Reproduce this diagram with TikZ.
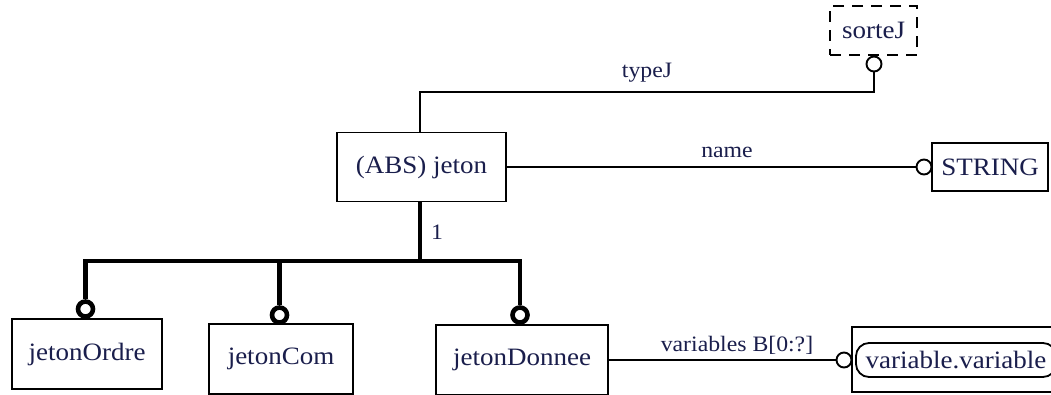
\documentclass[tikz,border=0pt]{standalone}
\usepackage{fontspec}
\setmainfont{Liberation Serif}[FakeStretch=1.08]
\usepackage{xcolor}
\definecolor{inkblue}{HTML}{1A1E4C}
\usepackage{tikz}
\usetikzlibrary{calc}
\tikzset{
    ent_box/.style={draw=black, line width=1.8pt, fill=white, text=inkblue, font=\fontsize{25}{28}\selectfont, inner sep=0pt},
    ent_dash/.style={ent_box, dash pattern=on 11pt off 8pt},
    ent_pill/.style={ent_box, rounded corners=13pt},
    ent_ring/.style={circle, draw=black, fill=white, line width=1.9pt, inner sep=0pt, minimum size=15pt},
    ent_ring_thick/.style={ent_ring, line width=4.6pt, minimum size=15pt},
    ent_edge/.style={draw=black, line width=1.9pt},
    ent_edge_thick/.style={draw=black, line width=4.2pt, line join=miter},
    ent_label/.style={text=inkblue, font=\fontsize{22}{24}\selectfont, inner sep=0pt}
}

\begin{document}
\begin{tikzpicture}[x=1pt, y=-1pt]
\clip (0,0) rectangle (1051,394);
\fill[white] (0,0) rectangle (1051,394);

% entities
\node[ent_dash, minimum width=87pt, minimum height=49pt] (sorte) at (873.5,30.5) {sorteJ};
\node[ent_box, minimum width=169pt, minimum height=69pt] (jeton) at (421.5,167) {(ABS) jeton};
\node[ent_box, minimum width=116pt, minimum height=48pt] (string) at (990,167) {STRING};
\node[ent_box, minimum width=150pt, minimum height=70pt] (ordre) at (87,354) {jetonOrdre};
\node[ent_box, minimum width=144pt, minimum height=70pt] (com) at (281,359) {jetonCom};
\node[ent_box, minimum width=172pt, minimum height=70pt] (donnee) at (522,360) {jetonDonnee};
\node[ent_box, minimum width=218pt, minimum height=65pt] (varouter) at (961,359.5) {};
\node[ent_pill, minimum width=200pt, minimum height=34pt] (variable) at (956,360) {variable.variable};

% rings
\node[ent_ring] (c_sorte) at (874,64) {};
\node[ent_ring] (c_string) at (924,167) {};
\node[ent_ring] (c_var) at (844,360) {};
\node[ent_ring_thick] (c_ordre) at (85.5,309) {};
\node[ent_ring_thick] (c_com) at (279.5,315) {};
\node[ent_ring_thick] (c_donnee) at (520,315) {};

% attributes
\coordinate (t_bend) at (420,92);
\draw[ent_edge] (jeton.north -| t_bend) -- (t_bend) -| (c_sorte.south);
\draw[ent_edge] (jeton.east) -- (c_string.west);
\draw[ent_edge] (donnee.east) -- (c_var.west);
\node[ent_label] at (647,73) {typeJ};
\node[ent_label] at (727,152) {name};
\node[ent_label] at (737,345) {variables B[0:?]};

% subtypes
\coordinate (fork) at (420,261);
\draw[ent_edge_thick] (jeton.south -| fork) -- (fork);
\draw[ent_edge_thick] (c_ordre.north) |- (fork);
\draw[ent_edge_thick] (c_com.north) -- (c_com.north |- fork);
\draw[ent_edge_thick] (c_donnee.north) |- (fork);
\node[ent_label] at (437,232) {1};
\end{tikzpicture}
\end{document}
